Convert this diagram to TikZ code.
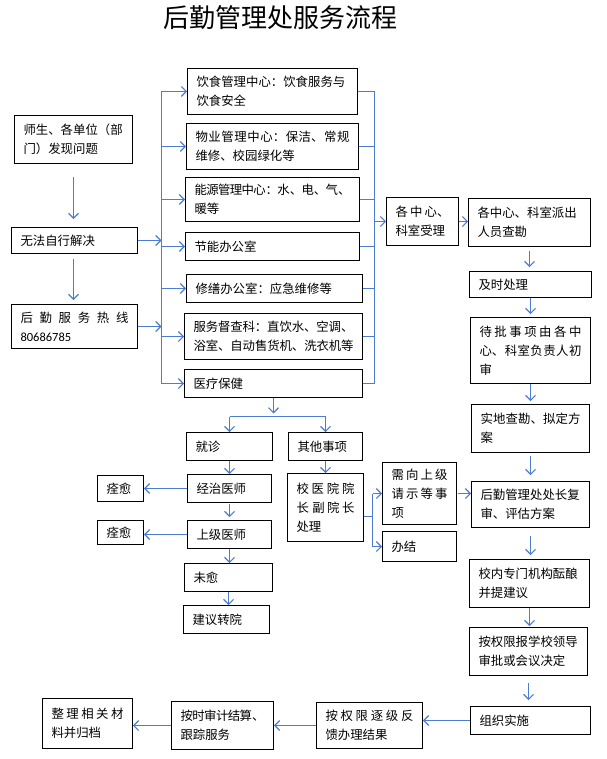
\documentclass[tikz,border=0pt]{standalone}
\usepackage{fontspec}
\setmainfont{Noto Sans CJK SC}
\newfontfamily\latinfont{Carlito}
\usetikzlibrary{arrows.meta}
\definecolor{lnblue}{RGB}{76,125,210}
\XeTeXlinebreaklocale "zh"
\XeTeXlinebreakskip=0pt plus 6pt minus 0.8pt
\tolerance=9000
\hbadness=10000
\tikzset{
  box/.style={draw=black, line width=0.9pt, inner xsep=9pt, inner ysep=3pt,
    align=justify, font=\fontsize{12.4}{19}\selectfont},
  arr/.style={draw=lnblue, line width=1.1pt, -{Straight Barb[length=5pt,width=10pt]}},
  ln/.style={draw=lnblue, line width=1.1pt},
}
\begin{document}
\begin{tikzpicture}[x=1pt,y=-1pt]
        \useasboundingbox (0,0) rectangle (606,759);

        \node[font=\fontsize{26}{30}\selectfont] (title) at (280.5,18) {后勤管理处服务流程};

        \coordinate (lbus) at (161.5,0);
        \coordinate (rbus) at (374.5,0);

        \begin{scope}[every node/.style={box}]
          \node[text width=100pt, minimum height=48pt] (shisheng)   at (73.5,139.5)  {师生、各单位（部\newline 门）发现问题};
          \node[text width=108pt, minimum height=26pt] (wufa)       at (74.5,240.5)  {无法自行解决};
          \node[text width=108pt, minimum height=44pt] (rexian)     at (74.5,326.5)  {后勤服务热线\linebreak{\latinfont\fontsize{12.5}{19}\selectfont 80686785}};

          \node[text width=152pt, minimum height=46pt] (yinshi)     at (272.5,91.5)  {饮食管理中心：饮食服务与\newline 饮食安全};
          \node[text width=154pt, minimum height=46pt] (wuye)       at (272.5,146.5) {物业管理中心：保洁、常规\linebreak 维修、校园绿化等};
          \node[text width=156pt, minimum height=44pt] (nengyuan)   at (272.5,199.5) {能源管理中心：水、电、气、\linebreak 暖等};
          \node[text width=156pt, minimum height=28pt] (jieneng)    at (272.5,246.5) {节能办公室};
          \node[text width=158pt, minimum height=28pt] (xiushan)    at (274.5,288.5) {修缮办公室：应急维修等};
          \node[text width=160pt, minimum height=46pt] (ducha)      at (273.5,336.5) {服务督查科：直饮水、空调、\linebreak 浴室、自动售货机、洗衣机等};
          \node[text width=160pt, minimum height=28pt] (yiliao)     at (273.5,383.5) {医疗保健};

          \node[text width=54pt,  minimum height=48pt] (geshou)     at (422.5,221.5) {各中心、\linebreak 科室受理};
          \node[text width=104pt, minimum height=48pt] (paichu)     at (529.5,222.5) {各中心、科室派出\newline 人员查勘};
          \node[text width=104pt, minimum height=26pt] (jishi)      at (530.5,284.5) {及时处理};
          \node[text width=102pt, minimum height=66pt] (daipi)      at (530.5,350.5) {待批事项由各中\linebreak 心、科室负责人初\linebreak 审};
          \node[text width=100pt, minimum height=48pt] (shidi)      at (530.5,428.5) {实地查勘、拟定方\linebreak 案};
          \node[text width=100pt, minimum height=46pt] (fushen)     at (530.5,504.5) {后勤管理处处长复\newline 审、评估方案};
          \node[text width=102pt, minimum height=48pt] (yunniang)   at (529.5,583.5) {校内专门机构酝酿\newline 并提建议};
          \node[text width=100pt, minimum height=48pt] (pishen)     at (528.5,651.5) {按权限报学校领导\newline 审批或会议决定};
          \node[text width=102pt, minimum height=28pt] (zuzhi)      at (530.5,720.5) {组织实施};
          \node[text width=88pt,  minimum height=46pt] (fankui)     at (369.5,725.5) {按权限逐级反\linebreak 馈办理结果};
          \node[text width=84pt,  minimum height=48pt] (shenji)     at (222.5,725.5) {按时审计结算、\newline 跟踪服务};
          \node[text width=72pt,  minimum height=50pt] (guidang)    at (87.5,723.5)  {整理相关材\linebreak 料并归档};

          \node[text width=68pt,  minimum height=28pt] (jiuzhen)    at (229.5,446.5) {就诊};
          \node[text width=56pt,  minimum height=28pt] (qita)       at (325.5,446.5) {其他事项};
          \node[text width=66pt,  minimum height=28pt] (jingzhi)    at (229.5,488.5) {经治医师};
          \node[text width=28pt,  minimum height=26pt] (quanyu1)    at (120.5,488.5) {痊愈};
          \node[text width=66pt,  minimum height=28pt] (shangji)    at (229.5,534.5) {上级医师};
          \node[text width=28pt,  minimum height=24pt] (quanyu2)    at (120.5,532.5) {痊愈};
          \node[text width=70pt,  minimum height=28pt] (weiyu)      at (228.5,577.5) {未愈};
          \node[text width=68pt,  minimum height=28pt] (zhuanyuan)  at (226.5,619.5) {建议转院};
          \node[text width=58pt,  minimum height=68pt] (xiaoyiyuan) at (325.5,507.5) {校医院院\linebreak 长 副院长\linebreak 处理};
          \node[text width=56pt,  minimum height=62pt] (xuxiang)    at (419.5,493.5) {需向上级\linebreak 请示等事\linebreak 项};
          \node[text width=56pt,  minimum height=30pt] (banjie)     at (419.5,546.5) {办结};
        \end{scope}

        \coordinate (fork) at (273.5,416.5);
        \coordinate (br) at (372.5,516.5);

        \begin{scope}[every edge/.style={ln}]
          \path (lbus |- yinshi.west) edge (lbus |- yiliao.west);
          \path (rbus |- yinshi.east) edge (rbus |- yiliao.east);
          \path (yinshi.east)   edge (yinshi.east -| rbus);
          \path (wuye.east)     edge (wuye.east -| rbus);
          \path (nengyuan.east) edge (nengyuan.east -| rbus);
          \path (jieneng.east)  edge (jieneng.east -| rbus);
          \path (xiushan.east)  edge (xiushan.east -| rbus);
          \path (ducha.east)    edge (ducha.east -| rbus);
          \path (yiliao.east)   edge (yiliao.east -| rbus);
          \path (jiuzhen.north |- fork) edge (qita.north |- fork);
          \path (xiaoyiyuan.east |- br) edge (br);
          \path (br |- xuxiang.west) edge (br |- banjie.west);
        \end{scope}

        \begin{scope}[every edge/.style={arr}]
          \path (shisheng.south) edge[shorten <=13pt, shorten >=8pt] (shisheng.south |- wufa.north);
          \path (shisheng.south |- wufa.south) edge[shorten <=5pt, shorten >=4pt] (shisheng.south |- rexian.north);
          \path (wufa.east)   edge (wufa.east -| lbus);
          \path (rexian.east) edge (rexian.east -| lbus);
          \path (lbus |- yinshi.west)   edge (yinshi.west);
          \path (lbus |- wuye.west)     edge (wuye.west);
          \path (lbus |- nengyuan.west) edge (nengyuan.west);
          \path (lbus |- jieneng.west)  edge (jieneng.west);
          \path (lbus |- xiushan.west)  edge (xiushan.west);
          \path (lbus |- ducha.west)    edge (ducha.west);
          \path (lbus |- yiliao.west)   edge (yiliao.west);
          \path (rbus |- geshou.west)   edge (geshou.west);
          \path (geshou.east)   edge (geshou.east -| paichu.west);
          \path (paichu.south)  edge[shorten <=4pt, shorten >=4pt] (paichu.south |- jishi.north);
          \path (jishi.south)   edge[shorten >=3pt] (jishi.south |- daipi.north);
          \path (daipi.south)   edge[shorten >=3pt] (daipi.south |- shidi.north);
          \path (shidi.south)   edge[shorten <=3pt, shorten >=6pt] (shidi.south |- fushen.north);
          \path (fushen.south)  edge[shorten <=8pt, shorten >=4pt] (fushen.south |- yunniang.north);
          \path (yunniang.south) edge[shorten >=1pt] (yunniang.south |- pishen.north);
          \path (pishen.south)  edge[shorten <=7pt, shorten >=6pt] (pishen.south |- zuzhi.north);
          \path (zuzhi.west)    edge (zuzhi.west -| fankui.east);
          \path (fankui.west)   edge (fankui.west -| shenji.east);
          \path (shenji.west)   edge (shenji.west -| guidang.east);
          \path (yiliao.south)  edge[shorten >=3pt] (fork);
          \path (jiuzhen.north |- fork) edge (jiuzhen.north);
          \path (qita.north |- fork)    edge (qita.north);
          \path (jiuzhen.south) edge (jiuzhen.south |- jingzhi.north);
          \path (jingzhi.west)  edge (jingzhi.west -| quanyu1.east);
          \path (jingzhi.south) edge[shorten <=1pt, shorten >=3pt] (jingzhi.south |- shangji.north);
          \path (shangji.west)  edge (shangji.west -| quanyu2.east);
          \path (shangji.south) edge (shangji.south |- weiyu.north);
          \path (weiyu.south)   edge (weiyu.south |- zhuanyuan.north);
          \path (qita.south)    edge (qita.south |- xiaoyiyuan.north);
          \path (br |- xuxiang.west) edge (xuxiang.west);
          \path (br |- banjie.west)  edge (banjie.west);
          \path (xuxiang.east)  edge[shorten <=1pt] (xuxiang.east -| fushen.west);
        \end{scope}

      \end{tikzpicture}
\end{document}
